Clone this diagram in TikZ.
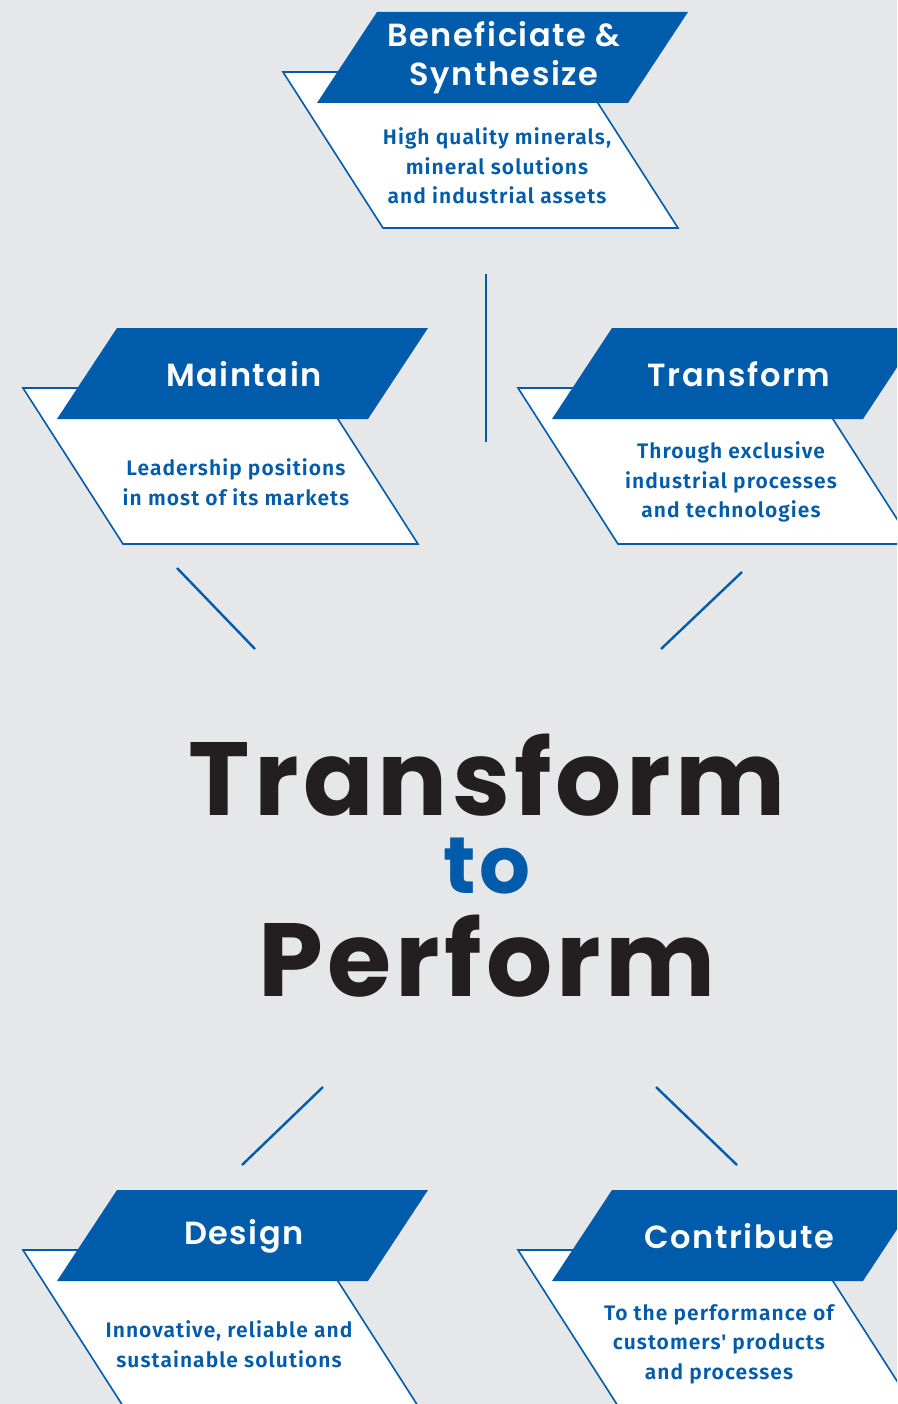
\documentclass[tikz,border=0pt]{standalone}
\usepackage{fontspec}
\IfFontExistsTF{Poppins SemiBold}
  {\newfontfamily\headfont{Poppins SemiBold}[LetterSpace=5]}
  {\newfontfamily\headfont{Poppins}[LetterSpace=6]}
\newfontfamily\bigfont{Poppins}[LetterSpace=4]
\IfFontExistsTF{Fira Sans SemiBold}
  {\newfontfamily\bodyfont{Fira Sans SemiBold}[LetterSpace=5]}
  {\newfontfamily\bodyfont{Fira Sans}[LetterSpace=3]}
\usetikzlibrary{math}
\definecolor{imblue}{RGB}{0,91,170}
\definecolor{imgrey}{RGB}{230,231,232}
\definecolor{imdark}{RGB}{35,31,32}

\tikzset{
  pillar head/.style={fill=imblue},
  pillar body/.style={fill=white, draw=imblue, line width=1.6},
  head text/.style={text=white, inner sep=0, align=center,
    font=\headfont\fontsize{32}{39}\selectfont},
  body text/.style={text=imblue, inner sep=0, align=center,
    font=\bodyfont\fontsize{21}{29.5}\selectfont},
  big text/.style={inner sep=0, anchor=base,
    font=\bigfont\bfseries\fontsize{104}{104}\selectfont},
  link/.style={draw=imblue, line width=2.4},
}

\begin{document}
\begin{tikzpicture}[x=1pt, y=-1pt]

\tikzmath{
\W = 311;% head width
\H = 91;% head height
\S = 60;% head slant
\BW = 295;% body width
\BH = 216;% body bottom
}

\fill[imgrey] (0,0) rectangle (897,1404);
\useasboundingbox (0,0) rectangle (897,1404);
\clip (0,0) rectangle (897,1404);

\foreach \bx/\by/\tx/\nm/\head/\body in {
  377/12/120/benef/{Beneficiate \&\\Synthesize}/{High quality minerals,\\mineral solutions\\and industrial assets},
  117/328/119/maintain/{Maintain}/{Leadership positions\\in most of its markets},
  612/328/119/transform/{Transform}/{Through exclusive\\industrial processes\\and technologies},
  117/1190/112/design/{Design}/{Innovative, reliable and\\sustainable solutions},
  612/1190/107/contribute/{Contribute}/{To the performance of\\customers' products\\and processes}}{

  %white body
  \draw[pillar body] (\bx-94,\by+\S) -- (\bx-94+\BW,\by+\S)
    -- (\bx+6+\BW,\by+\BH) -- (\bx+6,\by+\BH) -- cycle;
  %blue head
  \fill[pillar head] (\bx,\by) -- (\bx+\W,\by)
    -- (\bx+\W-\S,\by+\H) -- (\bx-\S,\by+\H) -- cycle;

  \node[head text] (\nm-head) at (\bx+127,\by+46) {\head};
  \node[body text] (\nm-body) at (\bx+\tx,\by+154) {\body};
}

%links
\coordinate (benef-a) at (486,274);
\coordinate (benef-b) at (486,442);
\coordinate (maintain-a) at (177,568);
\coordinate (maintain-b) at (255,649);
\coordinate (transform-a) at (742,572);
\coordinate (transform-b) at (661,649);
\coordinate (design-a) at (323,1087);
\coordinate (design-b) at (242,1165);
\coordinate (contribute-a) at (656,1087);
\coordinate (contribute-b) at (737,1165);

\foreach \nm in {benef,maintain,transform,design,contribute}
  \draw[link] (\nm-a) -- (\nm-b);

%title
\node[big text, text=imdark] (title-top) at (487,815) {Transform};
\node[big text, text=imblue, font=\bigfont\bfseries\fontsize{80}{80}\selectfont] (title-mid) at (487,893) {to};
\node[big text, text=imdark] (title-bot) at (487,996) {Perform};

\end{tikzpicture}
\end{document}
